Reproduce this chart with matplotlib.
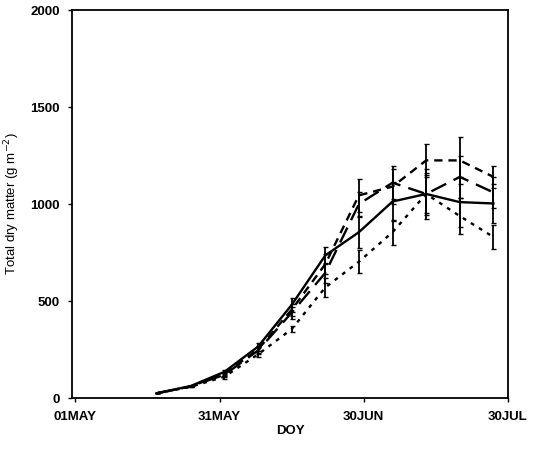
import matplotlib.pyplot as plt

plt.rcParams['font.family'] = ['Liberation Sans', 'DejaVu Sans']

doy = [138, 145, 152, 159, 166, 173, 180, 187, 194, 201, 208]

solid = [25, 62, 135, 265, 480, 735, 855, 1013, 1052, 1010, 1003]
short_dash = [25, 60, 125, 250, 455, 690, 1045, 1090, 1225, 1225, 1140]
long_dash = [25, 60, 120, 245, 440, 645, 1000, 1110, 1052, 1140, 1060]
dotted = [25, 58, 110, 225, 355, 570, 703, 855, 1052, 938, 830]

solid_err = [0, 0, 10, 20, 37, 45, 80, 100, 130, 130, 100]
short_err = [0, 0, 10, 20, 30, 50, 85, 90, 86, 122, 57]
long_err = [0, 0, 10, 20, 30, 50, 60, 85, 100, 110, 80]
dotted_err = [0, 0, 10, 15, 15, 50, 60, 65, 110, 93, 60]

tick_doy = [121, 151, 181, 211]
tick_labels = ["01MAY", "31MAY", "30JUN", "30JUL"]

fig = plt.figure(figsize=(5.34, 4.57), dpi=100)
ax = fig.add_axes([0.135, 0.129, 0.816, 0.849])

series = [
    (solid, solid_err, '-'),
    (short_dash, short_err, (0, (3.5, 2.5))),
    (long_dash, long_err, (0, (7, 3.5))),
    (dotted, dotted_err, (0, (1.6, 2.4))),
]

for vals, err, ls in series:
    ax.plot(doy, vals, color='black', linestyle=ls, linewidth=1.7)
    ax.errorbar(doy, vals, yerr=err, fmt='none', ecolor='black',
                elinewidth=1.3, capsize=1.8, capthick=1.0)

ax.set_xlim(120.3, 211)
ax.set_ylim(0, 2000)
ax.set_xticks(tick_doy)
ax.set_xticklabels(tick_labels)
ax.set_yticks([0, 500, 1000, 1500, 2000])

ax.tick_params(direction='out', length=3, width=1, labelsize=9.5, pad=6)
for lab in ax.get_xticklabels() + ax.get_yticklabels():
    lab.set_fontweight('bold')
for s in ax.spines.values():
    s.set_linewidth(1.3)

ax.set_xlabel("DOY", fontsize=9.5, fontweight='bold', labelpad=2)
ax.set_ylabel("Total dry matter (g m$^{-2}$)", fontsize=9.5, labelpad=6)

fig.savefig("out.png", dpi=100)
